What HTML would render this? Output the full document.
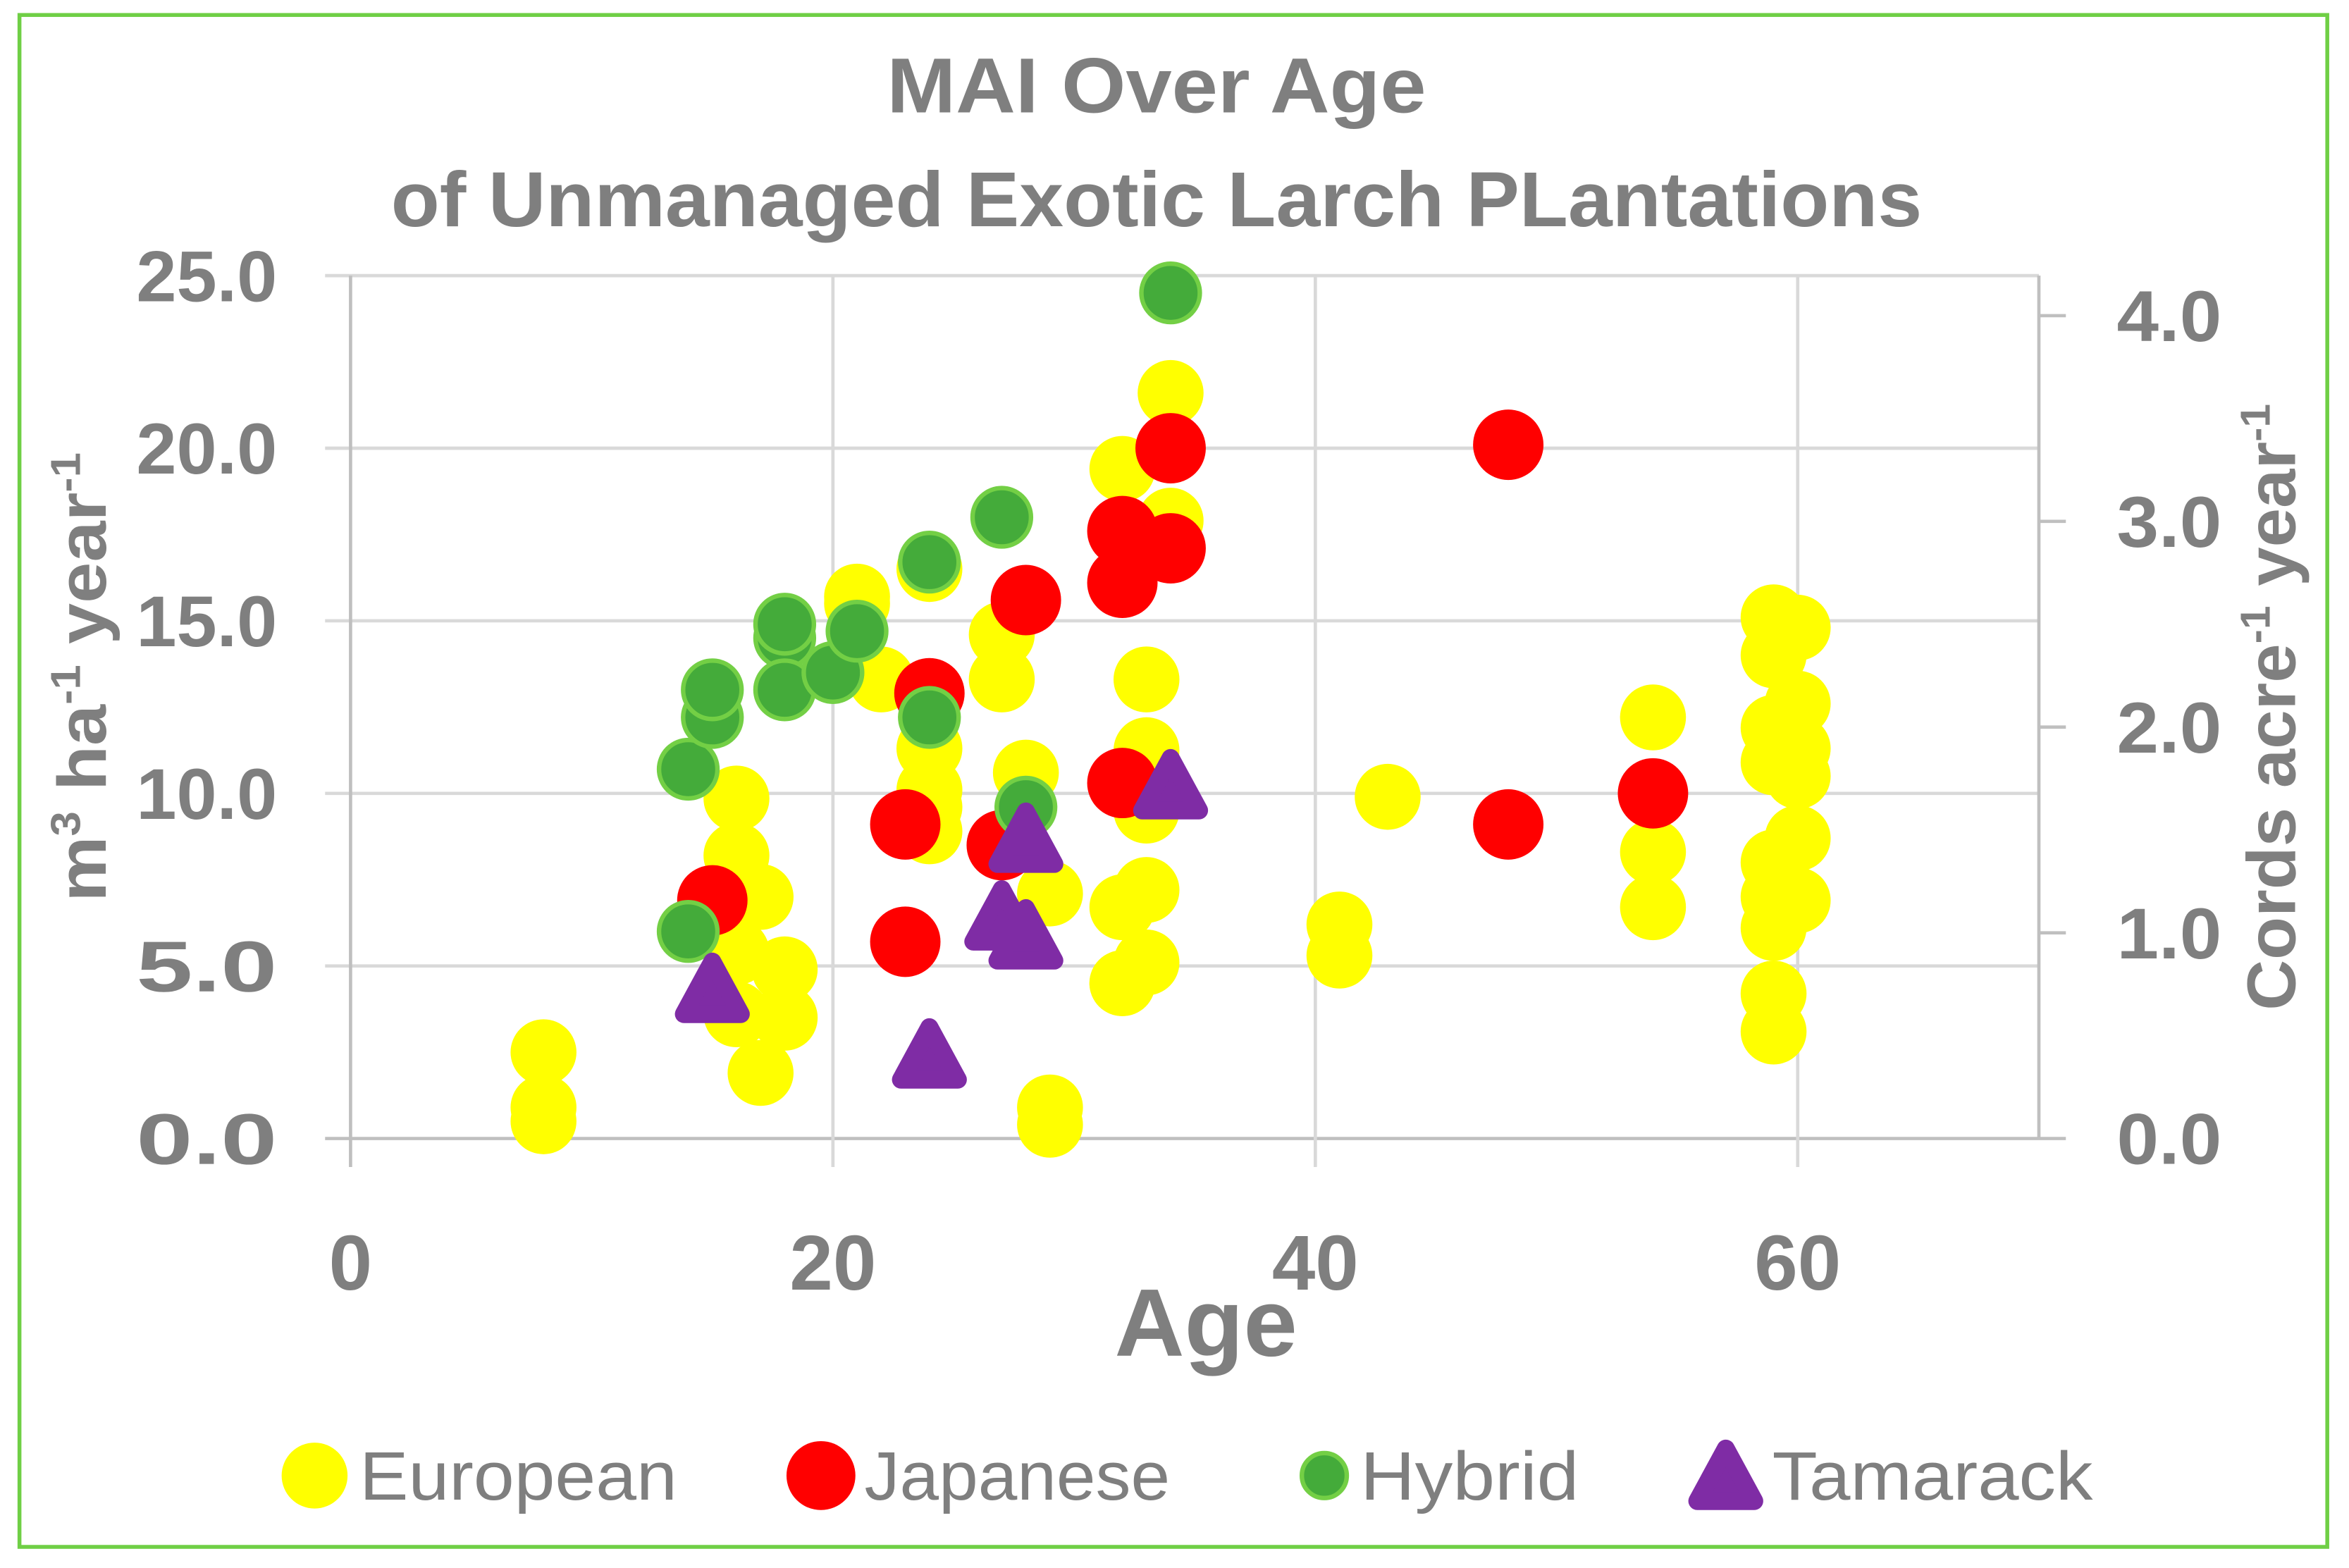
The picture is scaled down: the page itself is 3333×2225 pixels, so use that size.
<!DOCTYPE html>
<html><head><meta charset="utf-8"><title>MAI Over Age</title>
<style>html,body{margin:0;padding:0;background:#fff;}svg{display:block;}</style>
</head><body>
<svg id="chart" xmlns="http://www.w3.org/2000/svg" width="3333" height="2225" viewBox="0 0 1568 1046.7" preserveAspectRatio="none" font-family="'Liberation Sans', sans-serif">
<rect x="13" y="10" width="1540.5" height="1022.6" fill="#fff" stroke="#6fcf45" stroke-width="2.6"/>
<text x="772" y="75" text-anchor="middle" font-weight="bold" font-size="52" fill="#7f7f7f" textLength="360" lengthAdjust="spacingAndGlyphs">MAI Over Age</text>
<text x="772" y="151" text-anchor="middle" font-weight="bold" font-size="52" fill="#7f7f7f" textLength="1022" lengthAdjust="spacingAndGlyphs">of Unmanaged Exotic Larch PLantations</text>
<g id="grid"></g>
<g id="axes"></g>
<g id="marks"></g>
<text transform="translate(70.5,452) rotate(-90)" text-anchor="middle" font-weight="bold" font-size="46" fill="#7f7f7f" textLength="300" lengthAdjust="spacingAndGlyphs">m<tspan font-size="28" dy="-17">3</tspan><tspan dy="17"> ha</tspan><tspan font-size="28" dy="-17">-1</tspan><tspan dy="17"> year</tspan><tspan font-size="28" dy="-17">-1</tspan></text>
<text transform="translate(1532,472) rotate(-90)" text-anchor="middle" font-weight="bold" font-size="46" fill="#7f7f7f" textLength="405" lengthAdjust="spacingAndGlyphs">Cords acre<tspan font-size="28" dy="-17">-1</tspan><tspan dy="17"> year</tspan><tspan font-size="28" dy="-17">-1</tspan></text>
<text x="805" y="905" text-anchor="middle" font-weight="bold" font-size="64" fill="#7f7f7f" textLength="122" lengthAdjust="spacingAndGlyphs">Age</text>
<g id="legend"></g>
</svg>
<script>
var xTicks = [0, 20, 40, 60];
var xTickLabels = ["0", "20", "40", "60"];
var yTicks = [0, 5, 10, 15, 20, 25];
var yTickLabels = ["0.0", "5.0", "10.0", "15.0", "20.0", "25.0"];
var y2Ticks = [0, 1, 2, 3, 4];
var y2TickLabels = ["0.0", "1.0", "2.0", "3.0", "4.0"];
var cordFactor = 5.96;

var europeanAge = [8,8,8,16,16,17,16,18,18,16,17,16,21,21,22,24,24,24,24,24,27,27,28,29,29,29,32,32,32,33,33,33,33,32,34,34,33,33,41,41,43,54,54,54,59,59,59,59,59,59,59,59,59,60,60,60,60,60,60];
var europeanMAI = [2.5,0.9,0.5,9.85,8.2,7.0,6.9,4.9,3.5,3.6,1.9,5.4,15.5,15.7,13.3,16.5,11.3,10.1,9.6,8.9,14.6,13.3,10.6,7.1,0.9,0.4,19.4,6.7,4.5,13.3,11.25,9.6,7.2,4.5,21.6,17.9,5.1,9.5,6.2,5.3,9.9,12.2,8.3,6.7,15.1,14.0,11.9,10.9,8.0,7.0,6.1,4.2,3.1,14.8,12.6,11.3,10.5,8.7,6.9];
var japaneseAge = [15,23,23,24,27,28,32,32,32,34,34,48,48,54];
var japaneseMAI = [6.9,9.1,5.7,12.9,8.5,15.6,17.6,16.1,10.3,20.0,17.1,20.1,9.1,10.0];
var hybridAge = [14,14,15,15,18,18,18,20,21,24,24,27,28,34];
var hybridMAI = [10.7,6.0,12.2,13.0,14.5,14.9,13.0,13.5,14.7,16.7,12.2,18.0,9.6,24.5];
var tamarackAge = [15,24,27,28,28,34];
var tamarackMAI = [4.3,2.4,6.4,5.85,8.65,10.2];

var NS = "http://www.w3.org/2000/svg";
var X0 = 234, XS = 16.1, Y0 = 760, YS = 23.04, XMAX = 70, YMAX = 25;
function xPos(v){ return X0 + v*XS; }
function yPos(v){ return Y0 - v*YS; }
function y2Pos(v){ return Y0 - v*cordFactor*YS; }
function mk(tag, attrs, parent){
  var el = document.createElementNS(NS, tag);
  for (var k in attrs) el.setAttribute(k, attrs[k]);
  parent.appendChild(el); return el;
}
var grid = document.getElementById('grid');
var axes = document.getElementById('axes');
var marks = document.getElementById('marks');
var legend = document.getElementById('legend');
var xR = xPos(XMAX), yT = yPos(YMAX);

yTicks.forEach(function(t, i){
  var l = mk('line', {x1:X0-17, x2:xR, y1:yPos(t), y2:yPos(t), stroke: t===0?'#bfbfbf':'#d9d9d9', 'stroke-width': 2.2}, grid);
  
  
  var tx = mk('text', {x:185, y:yPos(t)+17, 'text-anchor':'end', 'font-weight':'bold', 'font-size':48, fill:'#7f7f7f', textLength:94, lengthAdjust:'spacingAndGlyphs'}, axes);
  tx.textContent = yTickLabels[i];
  
  
});
xTicks.forEach(function(t, i){
  if (t > 0) {
    var l = mk('line', {x1:xPos(t), x2:xPos(t), y1:yT, y2:Y0+19, stroke:'#d9d9d9', 'stroke-width': 2.2}, grid);
    
    
  }
  var tx = mk('text', {x:xPos(t), y:861, 'text-anchor':'middle', 'font-weight':'bold', 'font-size':52, fill:'#7f7f7f'}, axes);
  tx.textContent = xTickLabels[i];
  
  
});
var la = mk('line', {x1:X0, x2:X0, y1:yT, y2:Y0+19, stroke:'#bfbfbf', 'stroke-width':2.2}, axes);


var ra = mk('line', {x1:xR, x2:xR, y1:yT, y2:Y0, stroke:'#bfbfbf', 'stroke-width':2.2}, axes);


y2Ticks.forEach(function(t, i){
  var l = mk('line', {x1:xR, x2:xR+18, y1:y2Pos(t), y2:y2Pos(t), stroke:'#bfbfbf', 'stroke-width':2.2}, axes);
  
  
  var tx = mk('text', {x:1413, y:y2Pos(t)+17, 'text-anchor':'start', 'font-weight':'bold', 'font-size':48, fill:'#7f7f7f', textLength:70, lengthAdjust:'spacingAndGlyphs'}, axes);
  tx.textContent = y2TickLabels[i];
  
  
});

function circle(cx, cy, r, fill, stroke, sw, parent){
  var a = {cx:cx, cy:cy, r:r, fill:fill};
  if (stroke) { a.stroke = stroke; a['stroke-width'] = sw; }
  return mk('circle', a, parent);
}
function tri(cx, cy, parent){
  var pts = cx+','+(cy-19)+' '+(cx-19)+','+(cy+16)+' '+(cx+19)+','+(cy+16);
  return mk('polygon', {points:pts, fill:'#7f2ca5', stroke:'#7f2ca5', 'stroke-width':12, 'stroke-linejoin':'round'}, parent);
}
europeanAge.forEach(function(a, i){
  var c = circle(xPos(a), yPos(europeanMAI[i]), 22, '#ffff00', null, 0, marks);
  
  
});
japaneseAge.forEach(function(a, i){
  var c = circle(xPos(a), yPos(japaneseMAI[i]), 23.5, '#ff0000', null, 0, marks);
  
  
});
hybridAge.forEach(function(a, i){
  var c = circle(xPos(a), yPos(hybridMAI[i]), 19.5, '#44ab3a', '#73cf45', 3, marks);
  
  
});
tamarackAge.forEach(function(a, i){
  var t = tri(xPos(a), yPos(tamarackMAI[i]), marks);
  
  
});

var legNames = ["European", "Japanese", "Hybrid", "Tamarack"];
var legMarkX = [210, 548, 884, 1152];
var legTextX = [240, 577, 908, 1183];
var legTextW = [212, 204, 146, 214];
legNames.forEach(function(n, i){
  var m;
  if (i === 0) m = circle(legMarkX[i], 985, 22, '#ffff00', null, 0, legend);
  else if (i === 1) m = circle(legMarkX[i], 985, 23, '#ff0000', null, 0, legend);
  else if (i === 2) m = circle(legMarkX[i], 985, 15, '#44ab3a', '#73cf45', 3, legend);
  else m = tri(legMarkX[i], 986, legend);
  
  
  var tx = mk('text', {x:legTextX[i], y:1001, 'font-size':46, fill:'#7f7f7f', textLength:legTextW[i], lengthAdjust:'spacingAndGlyphs'}, legend);
  tx.textContent = n;
  
  
});
</script>
</body></html>
